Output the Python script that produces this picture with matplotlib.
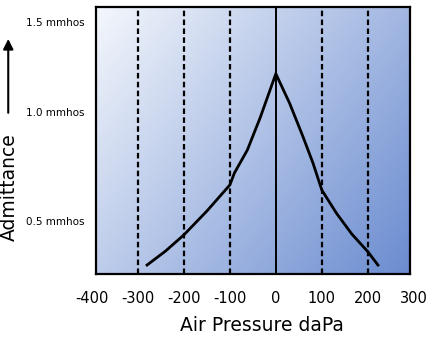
import numpy as np
import matplotlib
matplotlib.use("Agg")
import matplotlib.pyplot as plt
from matplotlib.colors import LinearSegmentedColormap

# tympanogram curve
pressure = [-280, -240, -200, -150, -100, -90, -62, -34, 0, 30, 59, 81, 100, 132, 165, 200, 222]
admittance = [0.247, 0.32, 0.405, 0.53, 0.667, 0.73, 0.85, 1.02, 1.25, 1.095, 0.92, 0.78, 0.64, 0.518, 0.41, 0.317, 0.247]

# vertical guide lines
dashed_x = [-300, -200, -100, 100, 200]
solid_x = [0]

# tick labels
xtick_vals = [-400, -300, -200, -100, 0, 100, 200, 300]
ytick_pos = [0.48, 1.05, 1.52]
ytick_labels = ['0.5 mmhos', '1.0 mmhos', '1.5 mmhos']

xmin, xmax = -391, 291
ymin, ymax = 0.2, 1.6

fig = plt.figure(figsize=(4.34, 3.38), dpi=100)
ax = fig.add_axes([0.2212, 0.1893, 0.7228, 0.79])

# diagonal white -> blue background
cmap = LinearSegmentedColormap.from_list('bg', ['#f4f7fc', '#6b8cd0'])
u = np.linspace(0, 1, 200)
v = np.linspace(0, 1, 200)
U, V = np.meshgrid(u, v)
grad = 0.6 * U + 0.4 * V
ax.imshow(grad, cmap=cmap, extent=[xmin, xmax, ymin, ymax], origin='upper',
          aspect='auto', zorder=0, vmin=0, vmax=1)

for x in dashed_x:
    ax.axvline(x, color='black', lw=1.6, ls=(0, (2.5, 1.5)), zorder=1)
for x in solid_x:
    ax.axvline(x, color='black', lw=1.4, zorder=1)

ax.plot(pressure, admittance, color='black', lw=2, zorder=2, solid_joinstyle='miter')

ax.set_xlim(xmin, xmax)
ax.set_ylim(ymin, ymax)
for s in ax.spines.values():
    s.set_linewidth(1.6)
ax.set_xticks([])
ax.set_yticks(ytick_pos)
ax.set_yticklabels(ytick_labels, fontsize=7.5)
ax.tick_params(axis='y', length=0, pad=8)

for x in xtick_vals:
    ax.text(x, -0.09, str(x), transform=ax.get_xaxis_transform(), ha='center',
            va='center', fontsize=10.5, clip_on=False)

fig.text(0.604, 0.038, 'Air Pressure daPa', ha='center', va='center', fontsize=13.5)
fig.text(0.022, 0.447, 'Admittance', rotation=90, ha='center', va='center', fontsize=13.5)
ax.annotate('', xy=(0.019, 0.893), xytext=(0.019, 0.658), xycoords='figure fraction',
            arrowprops=dict(arrowstyle='-|>', color='black', lw=1.5, mutation_scale=15))

fig.savefig('out.png', dpi=100)
